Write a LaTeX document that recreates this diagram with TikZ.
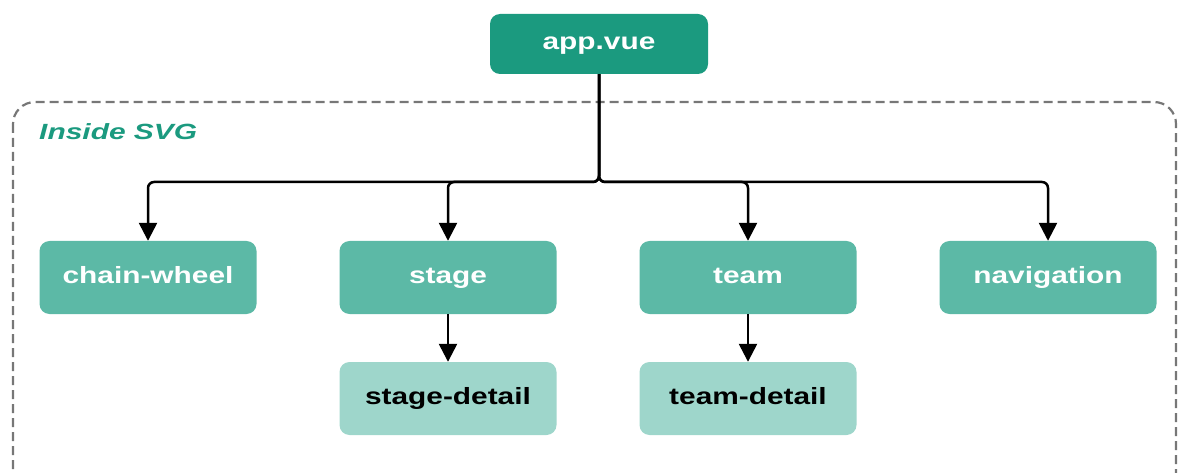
\documentclass[tikz,border=0pt]{standalone}
\usepackage{fontspec}
\setmainfont{Liberation Sans}
\usetikzlibrary{arrows.meta}
\definecolor{darkteal}{HTML}{1B9A7F}
\definecolor{midteal}{HTML}{5CB9A6}
\definecolor{lightteal}{HTML}{9ED6CB}
\definecolor{dashgray}{HTML}{777777}
\newcommand{\wtxt}[1]{\scalebox{1.27}[1]{#1}}
\tikzset{
  box/.style={rectangle, rounded corners=10pt, minimum width=217pt, minimum height=73pt, inner sep=0pt,
    text height=17pt, text depth=6pt,
    font=\fontsize{23.5}{27}\selectfont\bfseries},
  topbox/.style={box, fill=darkteal, text=white, minimum width=218pt, minimum height=60pt},
  midbox/.style={box, fill=midteal, text=white},
  lowbox/.style={box, fill=lightteal, text=black},
  conn/.style={draw=black, line width=2.5pt, rounded corners=6pt,
    -{Triangle[width=18pt,length=18pt]}},
}
\begin{document}
\begin{tikzpicture}[x=1pt,y=-1pt]
\useasboundingbox (0,0) rectangle (1178,473);
\draw[dashgray, line width=2.2pt, dash pattern=on 9pt off 5pt, rounded corners=22pt]
  (13,102) rectangle (1176,520);
\node[anchor=base west, text=darkteal, font=\fontsize{22}{26}\selectfont\bfseries\itshape, inner sep=0pt]
  (lbl) at (39,140) {\scalebox{1.36}[1]{Inside SVG}};
\node[topbox] (app) at (599,44) {\wtxt{app.vue}};
\node[midbox] (chain) at (148,277.5) {\wtxt{chain-wheel}};
\node[midbox] (stage) at (448,277.5) {\wtxt{stage}};
\node[midbox] (team) at (748,277.5) {\wtxt{team}};
\node[midbox] (nav) at (1048,277.5) {\wtxt{navigation}};
\node[lowbox] (sdet) at (448,398.5) {\wtxt{stage-detail}};
\node[lowbox] (tdet) at (748,398.5) {\wtxt{team-detail}};
\coordinate (bus) at (599,182);
\draw[conn] (app.south) -- (bus) -| (chain.north);
\draw[conn] (app.south) -- (bus) -| (stage.north);
\draw[conn] (app.south) -- (bus) -| (team.north);
\draw[conn] (app.south) -- (bus) -| (nav.north);
\draw[conn] (stage.south) -- (sdet.north);
\draw[conn] (team.south) -- (tdet.north);
\end{tikzpicture}
\end{document}
